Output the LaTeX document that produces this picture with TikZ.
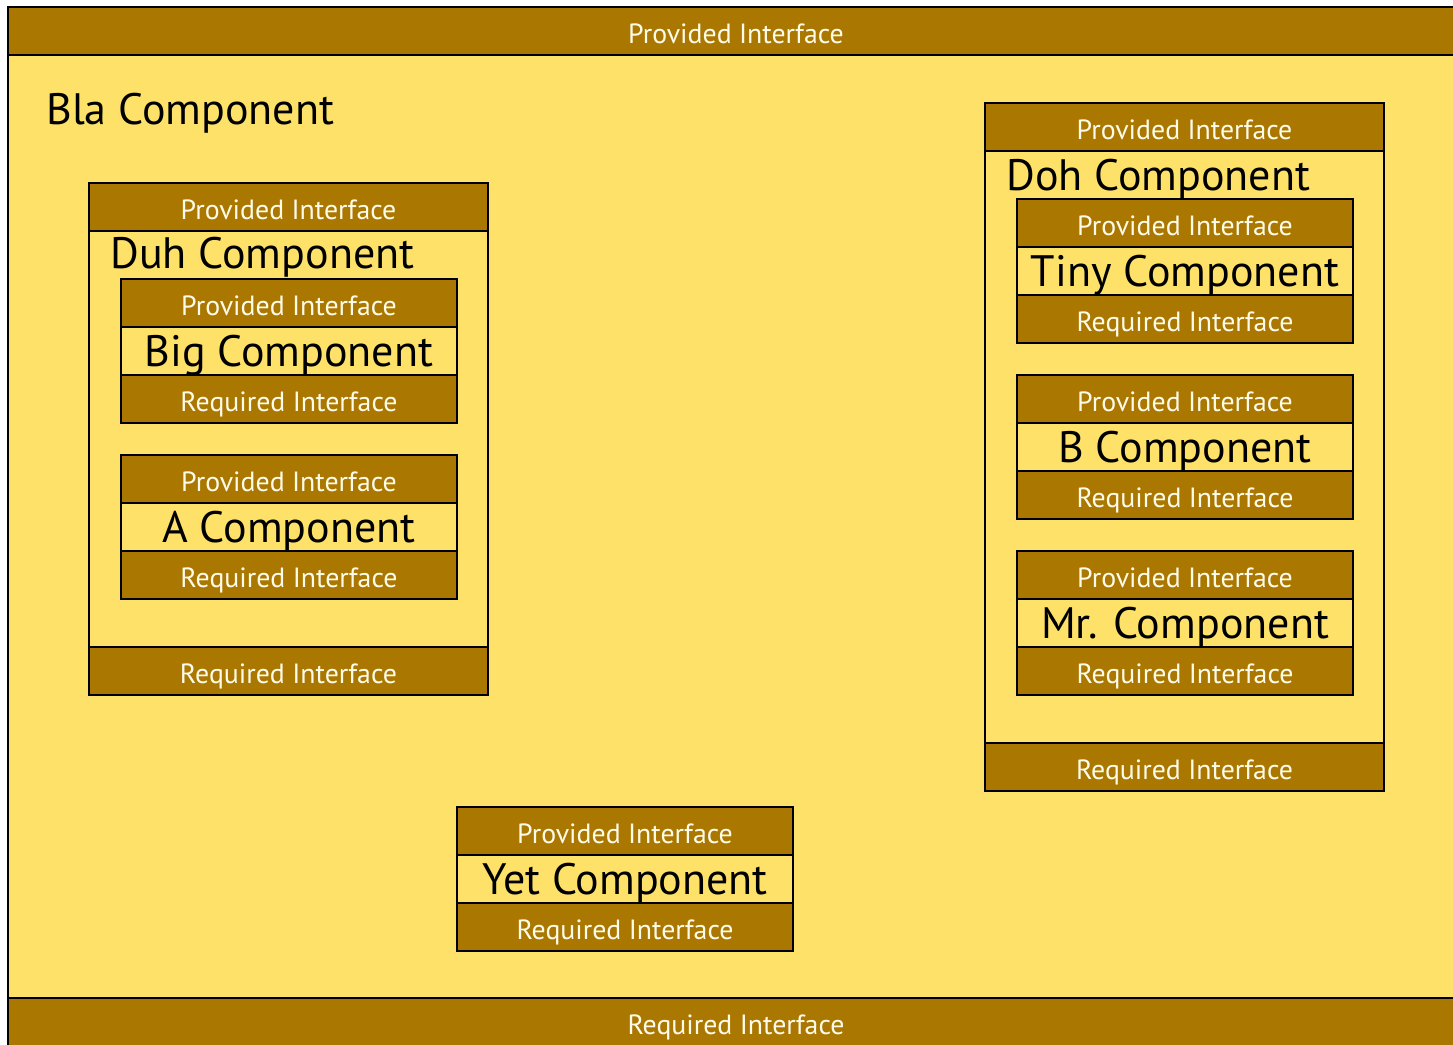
\documentclass[tikz,border=0pt]{standalone}
\usepackage{fontspec}
\setmainfont{PT Sans}
\usetikzlibrary{positioning}
\definecolor{compyellow}{HTML}{FDE168}
\definecolor{ifbrown}{HTML}{AA7800}
\definecolor{iftext}{HTML}{FFFBEA}
\newcommand\ifacefont{\fontsize{27.8}{32}\selectfont}
\newcommand\namefont{\fontsize{44}{50}\selectfont}
% small component: name, x, y, label
\newcommand\smallcomp[4]{%
\node[iface, minimum width=336pt, anchor=north west] (#1-p) at (#2,#3) {Provided Interface};
\node[cname, minimum width=336pt, below=0pt of #1-p] (#1) {#4};
\node[iface, minimum width=336pt, below=0pt of #1] (#1-r) {Required Interface};
}

\begin{document}
\begin{tikzpicture}[x=1pt, y=-1pt, line width=2.8pt,
  iface/.style = {draw, fill=ifbrown, text=iftext, outer sep=0pt, inner sep=0pt, minimum height=48pt, text height=24pt, text depth=0pt, font=\ifacefont},
  cname/.style = {draw, fill=compyellow, outer sep=0pt, inner sep=0pt, minimum height=48pt, text height=30.8pt, text depth=0pt, font=\namefont},
  holder/.style = {draw, fill=compyellow, outer sep=0pt, inner sep=0pt, anchor=north west},
  ctitle/.style = {anchor=base west, inner sep=0pt, font=\namefont}]
\useasboundingbox (0,0) rectangle (1453,1044);
\clip (0,0) rectangle (1453,1044);
% Bla
\node[holder, minimum width=1456pt, minimum height=1039pt] (bla) at (8,7) {};
\node[iface, minimum width=1456pt, anchor=north west] (bla-p) at (bla.north west) {Provided Interface};
\node[iface, minimum width=1456pt, anchor=south west] (bla-r) at (bla.south west) {Required Interface};
\node[ctitle] (bla-t) at (45,124) {Bla Component};
% Duh
\node[holder, minimum width=399pt, minimum height=512pt] (duh) at (89,183) {};
\node[iface, minimum width=399pt, anchor=north west] (duh-p) at (duh.north west) {Provided Interface};
\node[iface, minimum width=399pt, anchor=south west] (duh-r) at (duh.south west) {Required Interface};
\node[ctitle] (duh-t) at (109,268) {Duh Component};
\smallcomp{big}{121}{279}{Big Component}
\smallcomp{a}{121}{455}{A Component}
% Doh
\node[holder, minimum width=399pt, minimum height=688pt] (doh) at (985,103) {};
\node[iface, minimum width=399pt, anchor=north west] (doh-p) at (doh.north west) {Provided Interface};
\node[iface, minimum width=399pt, anchor=south west] (doh-r) at (doh.south west) {Required Interface};
\node[ctitle] (doh-t) at (1005,190) {Doh Component};
\smallcomp{tiny}{1017}{199}{Tiny Component}
\smallcomp{b}{1017}{375}{B Component}
\smallcomp{mr}{1017}{551}{Mr. Component}
% Yet
\smallcomp{yet}{457}{807}{Yet Component}
\end{tikzpicture}
\end{document}
